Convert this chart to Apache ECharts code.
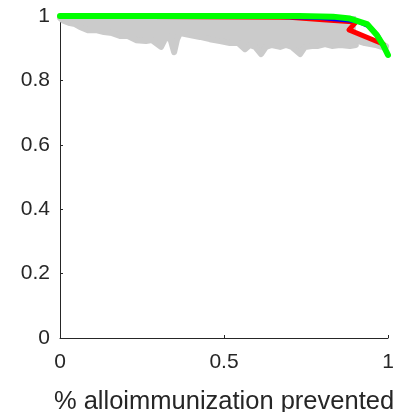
<!DOCTYPE html>
<html>
<head>
<meta charset="utf-8">
<script src="https://cdn.jsdelivr.net/npm/echarts@6/dist/echarts.min.js"></script>
<style>
  html, body { margin: 0; padding: 0; background: #fff; }
  #chart { width: 399px; height: 412px; }
</style>
</head>
<body>
<div id="chart"></div>
<script>
// Tick values
const xTicks = [0, 0.5, 1];
const yTicks = [0, 0.2, 0.4, 0.6, 0.8, 1];

// Cloud of simulated trade-off curves (lower boundary of the grey band)
const grayBandX = [0, 0.009, 0.030, 0.046, 0.061, 0.085, 0.110, 0.134, 0.159, 0.183, 0.207, 0.232, 0.262, 0.280, 0.308, 0.320, 0.335, 0.348, 0.357, 0.366, 0.396, 0.427, 0.457, 0.488, 0.518, 0.543, 0.564, 0.579, 0.595, 0.613, 0.628, 0.646, 0.671, 0.689, 0.707, 0.732, 0.747, 0.768, 0.787, 0.808, 0.829, 0.854, 0.884, 0.902];
const grayBandY = [0.994, 0.986, 0.978, 0.975, 0.966, 0.956, 0.956, 0.950, 0.947, 0.938, 0.938, 0.925, 0.922, 0.925, 0.904, 0.928, 0.935, 0.888, 0.928, 0.947, 0.941, 0.935, 0.928, 0.922, 0.916, 0.916, 0.897, 0.910, 0.904, 0.882, 0.904, 0.910, 0.904, 0.910, 0.904, 0.882, 0.904, 0.907, 0.907, 0.913, 0.907, 0.910, 0.907, 0.910];
const grayTailX = [0.890, 0.930, 0.963, 0.991];
const grayTailY = [0.932, 0.919, 0.913, 0.904];

// Highlighted strategies
const redX = [0, 0.700, 0.802, 0.902, 0.881, 0.985];
const redY = [1, 0.996, 0.988, 0.981, 0.957, 0.913];
const blueX = [0, 0.671, 0.793, 0.905, 0.945, 0.970, 0.988, 1.0];
const blueY = [1, 0.997, 0.994, 0.984, 0.966, 0.938, 0.904, 0.879];
const greenX = [0, 0.730, 0.832, 0.884, 0.936, 0.966, 0.985, 1.0];
const greenY = [1, 1, 0.998, 0.992, 0.975, 0.941, 0.910, 0.879];

const pairs = (xs, ys) => xs.map((x, i) => [x, ys[i]]);

const axisColor = '#262626';
const grey = '#cbcbcb';
const fontFamily = 'Liberation Sans, Arial, sans-serif';

const chart = echarts.init(document.getElementById('chart'), null, { renderer: 'canvas' });

const lineSeries = (data, color, width) => ({
  type: 'line',
  data,
  symbol: 'none',
  silent: true,
  lineStyle: { color, width, cap: 'round', join: 'round' }
});

chart.setOption({
  animation: false,
  backgroundColor: '#ffffff',
  grid: { left: 60, right: 11, top: 16, bottom: 74, containLabel: false, outerBoundsMode: 'none' },
  xAxis: {
    type: 'value',
    min: xTicks[0],
    max: xTicks[xTicks.length - 1],
    interval: 0.5,
    name: '% alloimmunization prevented',
    nameLocation: 'middle',
    nameGap: 51,
    nameTextStyle: { color: axisColor, fontSize: 25.5, fontFamily },
    axisLine: { show: true, onZero: false, lineStyle: { color: axisColor, width: 1 } },
    axisTick: { show: true, inside: true, length: 3, lineStyle: { color: axisColor } },
    splitLine: { show: false },
    axisLabel: {
      color: axisColor, fontSize: 21, fontFamily, margin: 14,
      formatter: v => (xTicks.includes(v) ? String(v) : '')
    }
  },
  yAxis: {
    type: 'value',
    min: yTicks[0],
    max: yTicks[yTicks.length - 1],
    interval: 0.2,
    axisLine: { show: true, onZero: false, lineStyle: { color: axisColor, width: 1 } },
    axisTick: { show: true, inside: true, length: 3, lineStyle: { color: axisColor } },
    splitLine: { show: false },
    axisLabel: {
      color: axisColor, fontSize: 21, fontFamily, margin: 10,
      formatter: v => String(Math.round(v * 10) / 10)
    }
  },
  series: [
    {
      type: 'line',
      data: pairs(grayBandX, grayBandY),
      symbol: 'none',
      silent: true,
      lineStyle: { color: grey, width: 6, join: 'round', cap: 'round' },
      areaStyle: { color: grey, opacity: 1, origin: 'end' }
    },
    lineSeries(pairs(grayTailX, grayTailY), grey, 8),
    lineSeries(pairs(redX, redY), '#ff0000', 5),
    lineSeries(pairs(blueX, blueY), '#0000ff', 4),
    lineSeries(pairs(greenX, greenY), '#00ff00', 6)
  ]
});
</script>
</body>
</html>
